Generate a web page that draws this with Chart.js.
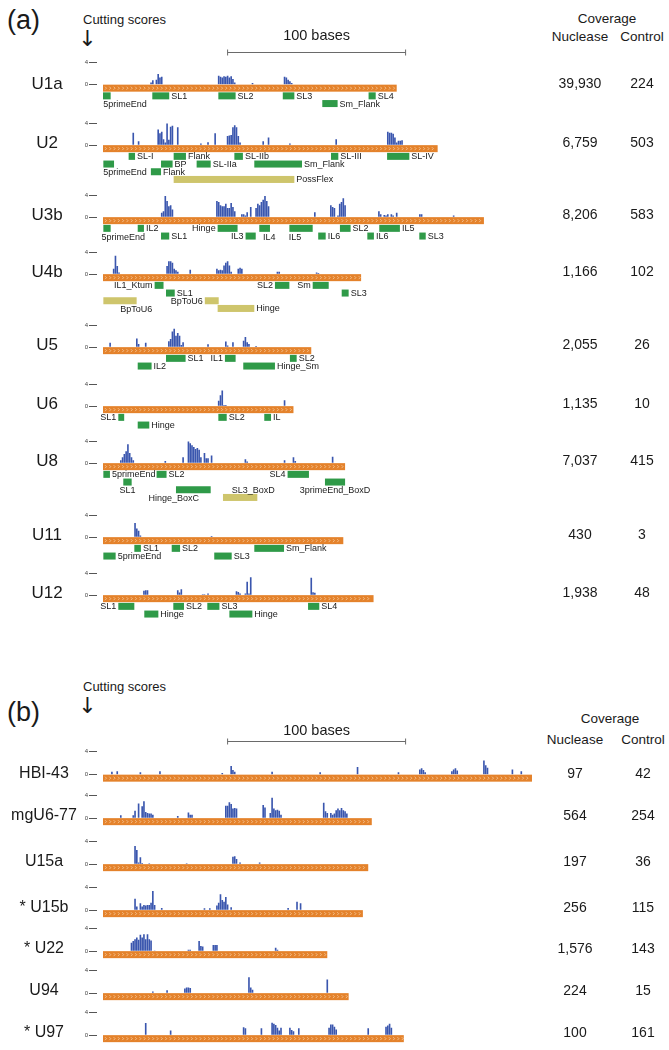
<!DOCTYPE html>
<html>
<head>
<meta charset="utf-8">
<script src="https://cdn.jsdelivr.net/npm/chart.js@4.4.1/dist/chart.umd.min.js"></script>
<style>
  body { margin: 0; background: #fff; font-family: "Liberation Sans", Arial, sans-serif; color: #1a1a1a; }
  #fig { position: relative; width: 669px; height: 1050px; overflow: hidden; }
  .t { position: absolute; white-space: nowrap; line-height: 1; transform: translate(-50%, -50%); }
  .l { transform: translate(0, -50%); }
  canvas { position: absolute; left: 0; }
</style>
</head>
<body>
<div id="fig"></div>
<script>
// ---- data: panel (a) ----
const namesA = ['U1a', 'U2', 'U3b', 'U4b', 'U5', 'U6', 'U8', 'U11', 'U12'];
const lengthsA = [165, 188, 214, 145, 117, 107, 136, 135, 152];
const nucleaseA = ['39,930', '6,759', '8,206', '1,166', '2,055', '1,135', '7,037', '430', '1,938'];
const controlA = ['224', '503', '583', '102', '26', '10', '415', '3', '48'];

// cutting scores: [base, score]
const scoresU1a = [[27,0.4],[28,0.8],[30,0.9],[31,1.9],[32,1.3],[33,1.4],[65,1.6],[66,1.4],[67,1.3],[68,1.5],[69,1.4],[70,1.6],[71,1.3],[72,1.5],[73,1.0],[74,0.4],[84,0.3],[102,1.4],[103,1.3],[104,0.9],[105,0.6],[106,0.3]];
const scoresU2 = [[17,2.3],[20,0.7],[31,2.9],[32,2.2],[33,2.5],[34,1.1],[35,0.5],[36,4.0],[37,1.0],[38,3.4],[39,3.6],[42,3.3],[55,0.3],[59,0.55],[63,2.2],[70,1.7],[71,1.8],[72,1.9],[73,3.3],[74,3.7],[75,3.3],[76,1.7],[77,0.5],[90,0.7],[93,1.4],[105,0.3],[131,1.1],[160,2.5],[161,2.3],[162,2.3],[163,2.1],[164,1.4],[165,0.5],[166,0.8],[167,0.8],[168,0.9]];
const scoresU3b = [[33,0.8],[34,1.1],[35,3.9],[36,3.0],[37,2.0],[38,2.2],[39,1.4],[64,3.0],[65,2.8],[66,2.2],[67,2.0],[68,2.0],[69,2.5],[70,1.7],[71,1.7],[72,2.6],[73,1.9],[74,1.1],[78,0.55],[79,0.55],[80,0.3],[81,0.9],[83,1.9],[86,1.7],[87,2.5],[88,2.2],[89,2.8],[90,3.2],[91,3.9],[92,3.0],[93,2.0],[119,0.9],[128,2.2],[129,1.9],[130,1.7],[132,0.3],[133,2.5],[134,2.8],[135,3.5],[136,2.2],[155,1.1],[156,0.55],[158,0.4],[159,0.3],[160,0.55],[162,0.55],[163,0.3],[165,0.8],[178,0.55],[179,0.55],[197,0.3]];
const scoresU4b = [[6,1.0],[7,3.4],[8,1.5],[9,0.3],[36,1.5],[37,2.4],[38,2.4],[39,2.1],[40,1.0],[41,0.7],[42,0.45],[49,0.8],[64,1.0],[65,0.7],[66,0.8],[67,0.7],[68,1.6],[69,2.1],[70,2.4],[71,1.6],[72,0.45],[76,1.0],[77,1.2],[78,1.0],[98,0.45],[99,0.45],[120,0.3],[121,0.2]];
const scoresU5 = [[4,0.8],[19,1.6],[20,0.6],[24,0.8],[37,1.1],[38,1.5],[39,2.9],[40,3.4],[41,2.1],[42,2.6],[43,2.1],[44,0.4],[45,0.9],[59,0.55],[69,1.05],[70,0.3],[73,0.9],[79,1.2],[80,1.9],[81,0.9],[82,0.6],[86,0.2]];
const scoresU6 = [[65,1.0],[66,2.0],[67,2.9],[68,0.2],[69,0.2],[102,1.1]];
const scoresU8 = [[10,0.55],[11,1.1],[12,1.7],[13,2.2],[14,3.5],[15,1.9],[16,1.1],[17,0.55],[35,0.4],[45,1.1],[48,4.0],[49,3.7],[50,3.3],[51,3.0],[52,2.6],[53,2.8],[54,2.5],[55,1.1],[57,1.9],[58,0.9],[59,0.9],[61,1.4],[80,0.7],[81,0.3],[102,0.55],[107,1.1],[108,0.4],[129,1.2]];
const scoresU11 = [[18,2.6],[19,1.6],[20,1.2],[21,0.3],[61,0.2]];
const scoresU12 = [[23,0.8],[24,0.9],[25,0.9],[42,0.9],[43,0.5],[44,1.1],[56,0.15],[57,0.15],[59,0.3],[75,0.7],[76,0.6],[77,0.3],[80,0.3],[81,2.5],[82,0.3],[83,3.3],[117,3.2],[118,0.55],[119,0.45]];

// annotations: [start, end, row, label, labelSide, labelCentre, colour]
const annU1a = [[0,4.3,1,'5primeEnd','b',12.4],[27.7,37.2,1,'SL1','r'],[64.8,74.5,1,'SL2','r'],[101,107.5,1,'SL3','r'],[149.2,153.2,1,'SL4','r'],[123.2,131.8,2,'Sm_Flank','r']];
const annU2 = [[14.4,18,1,'SL-I','r'],[39.7,46.6,1,'Flank','r'],[73.8,78.6,1,'SL-IIb','r'],[128.1,132.2,1,'SL-III','r'],[159.6,172.1,1,'SL-IV','r'],
  [0.2,6.2,2,'5primeEnd','b',12.4],[32.6,39.1,2,'BP','r'],[52.6,60.5,2,'SL-IIa','r'],[85,111.8,2,'Sm_Flank','r'],
  [26.9,32.6,3,'Flank','r'],[39.7,107.5,4,'PossFlex','r',null,'tan']];
const annU3b = [[0.2,4.3,1,'5primeEnd','b',11.4],[19.5,23,1,'IL2','r'],[64.4,75.6,1,'Hinge','l'],[87.8,93.8,1,'IL4','b',93.4],[104.7,117.8,1,'IL5','b',107.9],[133.1,139.1,1,'SL2','r'],[155.2,166.8,1,'IL5','r'],
  [32.6,37.2,2,'SL1','r'],[80.1,85.8,2,'IL3','l'],[120.9,125.1,2,'IL6','r'],[148.5,152.2,2,'IL6','r'],[177.7,181.3,2,'SL3','r']];
const annU4b = [[29,34,1,'IL1_Ktum','l'],[96.6,104.7,1,'SL2','l'],[117.8,126.8,1,'Sm','l'],
  [35.4,40.3,2,'SL1','r'],[134.1,138,2,'SL3','r'],
  [0.2,18.9,3,'BpToU6','b',18.7,'tan'],[57.2,65,3,'BpToU6','l',null,'tan'],[64.4,85,4,'Hinge','r',null,'tan']];
const annU5 = [[35.4,46.4,1,'SL1','r'],[68.5,74.5,1,'IL1','l'],[105,108.8,1,'SL2','r'],[19.5,27.3,2,'IL2','r'],[78.8,96.6,2,'Hinge_Sm','r']];
const annU6 = [[8.6,11.9,1,'SL1','l'],[64.8,69.5,1,'SL2','r'],[90.6,94.4,1,'IL','r'],[19.5,26,2,'Hinge','r']];
const annU8 = [[0.2,3.9,1,'5primeEnd','r'],[30.1,35.7,1,'SL2','r'],[103.7,115.7,1,'SL4','l'],
  [11.4,16.1,2,'SL1','b'],[124.7,136,2,'3primeEnd_BoxD','b'],
  [41,60.5,3,'Hinge_BoxC','b',39.7],[67.4,86.7,4,'SL3_BoxD','a',84.4,'tan']];
const annU11 = [[17.6,21.3,1,'SL1','r'],[38.6,43.3,1,'SL2','r'],[85,101.7,1,'Sm_Flank','r'],[0.2,7.1,2,'5primeEnd','r'],[62.5,72.3,2,'SL3','r']];
const annU12 = [[8.6,17.6,1,'SL1','l'],[39.5,45.5,1,'SL2','r'],[58.6,65.4,1,'SL3','r'],[115.2,121.5,1,'SL4','r'],[23.2,31.1,2,'Hinge','r'],[71,83.9,2,'Hinge','r']];

const scoresA = [scoresU1a, scoresU2, scoresU3b, scoresU4b, scoresU5, scoresU6, scoresU8, scoresU11, scoresU12];
const annotsA = [annU1a, annU2, annU3b, annU4b, annU5, annU6, annU8, annU11, annU12];

// ---- data: panel (b) ----
const namesB = ['HBI-43', 'mgU6-77', 'U15a', '* U15b', '* U22', 'U94', '* U97'];
const lengthsB = [241, 151, 149, 146, 126, 138, 169];
const nucleaseB = ['97', '564', '197', '256', '1,576', '224', '100'];
const controlB = ['42', '254', '36', '115', '143', '15', '161'];

const scoresHBI43 = [[5,0.5],[8,0.6],[21,0.4],[32,0.6],[67,0.3],[72,1.5],[73,0.8],[74,0.5],[95,0.5],[122,0.4],[143,1.3],[166,0.4],[178,0.9],[179,1.1],[180,0.8],[181,0.4],[196,0.6],[197,0.9],[198,1.1],[199,0.7],[214,2.4],[215,1.6],[216,1.2],[230,0.9],[235,0.6]];
const scoresMgU677 = [[10,0.5],[17,0.5],[18,1.3],[20,2.6],[22,2.1],[23,3.0],[24,1.1],[25,0.9],[26,0.8],[27,0.8],[28,0.6],[42,0.4],[48,1.0],[49,0.6],[50,0.6],[69,2.2],[70,2.2],[71,2.8],[72,2.5],[73,1.7],[74,1.8],[75,1.7],[90,2.3],[91,1.9],[94,0.9],[95,3.6],[96,1.7],[97,1.4],[98,1.5],[99,1.3],[100,0.6],[124,2.7],[125,1.2],[126,0.9],[128,0.9],[129,0.6],[130,0.8],[131,1.4],[132,1.7],[133,1.4],[134,1.8],[135,1.4],[136,1.2],[137,0.8]];
const scoresU15a = [[18,3.2],[19,2.5],[20,0.3],[21,1.2],[22,0.2],[26,0.15],[47,0.15],[73,1.3],[74,1.4],[75,0.9],[77,0.3],[88,0.3]];
const scoresU15b = [[18,2.0],[19,0.65],[21,1.2],[22,0.65],[23,0.9],[24,0.8],[25,0.9],[26,0.9],[27,1.3],[28,3.4],[29,0.9],[33,0.4],[57,0.35],[60,0.35],[64,0.8],[65,1.3],[66,2.8],[67,1.8],[68,1.5],[69,2.3],[70,1.0],[72,0.5],[104,0.4],[109,1.5],[111,1.2]];
const scoresU22 = [[16,1.5],[17,1.8],[18,2.1],[19,2.4],[20,2.0],[21,2.9],[22,2.4],[23,3.0],[24,2.1],[25,3.0],[26,2.1],[27,1.9],[29,0.1],[48,0.25],[49,0.25],[54,1.8],[55,0.9],[56,0.8],[62,1.1],[63,1.1],[64,1.1],[97,0.6],[98,0.25]];
const scoresU94 = [[28,0.3],[36,0.5],[46,0.8],[47,1.0],[48,1.0],[49,0.9],[82,2.8],[83,1.0],[84,0.6],[126,2.4]];
const scoresU97 = [[24,2.15],[38,0.8],[79,1.4],[80,1.2],[89,1.2],[95,2.2],[96,2.0],[97,1.8],[98,1.3],[99,0.8],[100,1.3],[105,1.3],[106,0.9],[107,0.7],[110,1.2],[127,1.3],[128,1.9],[129,1.9],[130,1.5],[131,1.0],[149,1.2],[159,1.5],[160,1.7],[161,2.0],[162,1.3]];

const scoresB = [scoresHBI43, scoresMgU677, scoresU15a, scoresU15b, scoresU22, scoresU94, scoresU97];

const scoreTicks = [0, 4];
const rulerBases = [70, 170];

// ---- layout ----
const X0 = 103, PX_PER_BASE = 1.78, AXIS_W = 97, CANVAS_W = 548;
const RNA_H = 7, ROW_STEP = 7.7, BOX_H = 7;
const baseYA = [85, 144, 216, 273, 346, 405, 462, 536, 594];
const baseYB = [775, 817, 863, 909, 950, 992, 1034];
const COLORS = { bar: '#3A56AE', rna: '#E4822B', green: '#2F9A48', tan: '#CEC56C', text: '#1a1a1a' };
const FONT = '"Liberation Sans", Arial, sans-serif';

// header offsets above the first baseline, per panel
const headA = { letter: 65, cutting: 66, arrow: 46, coverage: 66, cols: 48, rulerY: 33, rulerText: 49, covX: 607 };
const headB = { letter: 63, cutting: 89, arrow: 69, coverage: 56, cols: 35, rulerY: 34, rulerText: 44, covX: 610 };

const fig = document.getElementById('fig');

function addText(txt, x, y, size, cls) {
  const d = document.createElement('div');
  d.className = 't' + (cls ? ' ' + cls : '');
  d.style.left = x + 'px';
  d.style.top = y + 'px';
  d.style.fontSize = size + 'px';
  d.textContent = txt;
  fig.appendChild(d);
  return d;
}

// draws the RNA strip, annotation boxes and the scale bar from the chart's scales
const trackPlugin = {
  id: 'track',
  afterDatasetsDraw(chart, args, opts) {
    const { ctx, scales: { x, y } } = chart;
    const y0 = y.getPixelForValue(0);
    const xa = x.getPixelForValue(0), xb = x.getPixelForValue(opts.length);
    ctx.save();
    ctx.fillStyle = COLORS.rna;
    ctx.fillRect(xa, y0, xb - xa, RNA_H);
    ctx.strokeStyle = 'rgba(255,236,212,0.9)';
    ctx.lineWidth = 0.6;
    ctx.beginPath();
    for (let cx = xa + 2; cx < xb - 2; cx += 4.3) {
      ctx.moveTo(cx, y0 + 2);
      ctx.lineTo(cx + 1.5, y0 + RNA_H / 2);
      ctx.lineTo(cx, y0 + RNA_H - 2);
    }
    ctx.stroke();

    ctx.font = '9px ' + FONT;
    ctx.textBaseline = 'middle';
    (opts.annots || []).forEach(([s, e, row, label, side, lc, col]) => {
      const top = y0 + ROW_STEP * row, mid = top + BOX_H / 2 + 0.5;
      const xs = x.getPixelForValue(s), xe = x.getPixelForValue(e);
      ctx.fillStyle = col === 'tan' ? COLORS.tan : COLORS.green;
      ctx.fillRect(xs, top, xe - xs, BOX_H);
      ctx.fillStyle = COLORS.text;
      if (side === 'r') {
        ctx.textAlign = 'left';
        ctx.fillText(label, xe + 2, mid);
      } else if (side === 'l') {
        ctx.textAlign = 'right';
        ctx.fillText(label, xs - 2, mid);
      } else {
        ctx.textAlign = 'center';
        const cx = x.getPixelForValue(lc != null ? lc : (s + e) / 2);
        ctx.fillText(label, cx, mid + (side === 'b' ? ROW_STEP + 0.5 : -ROW_STEP));
      }
    });

    if (opts.ruler) {
      const r0 = x.getPixelForValue(rulerBases[0]), r1 = x.getPixelForValue(rulerBases[1]);
      const ry = Math.round(y0 - opts.ruler.rulerY) + 0.5;
      ctx.strokeStyle = '#6a6a6a';
      ctx.lineWidth = 1;
      ctx.beginPath();
      ctx.moveTo(r0, ry); ctx.lineTo(r1, ry);
      ctx.moveTo(r0, ry - 3); ctx.lineTo(r0, ry + 3);
      ctx.moveTo(r1, ry - 3); ctx.lineTo(r1, ry + 3);
      ctx.stroke();
      ctx.fillStyle = COLORS.text;
      ctx.font = '14.5px ' + FONT;
      ctx.textAlign = 'center';
      ctx.fillText((rulerBases[1] - rulerBases[0]) + ' bases', (r0 + r1) / 2, y0 - opts.ruler.rulerText);
    }
    ctx.restore();
  }
};

function makeTrack(scores, length, annots, baseY, ppu, ruler) {
  const head = ruler ? 58 : 30, below = 50;
  const canvas = document.createElement('canvas');
  canvas.width = CANVAS_W;
  canvas.height = head + below;
  canvas.style.top = (baseY - head) + 'px';
  fig.appendChild(canvas);
  new Chart(canvas, {
    type: 'bar',
    data: {
      datasets: [{
        data: scores.map(([b, v]) => ({ x: b, y: v })),
        backgroundColor: COLORS.bar,
        borderWidth: 0,
        barPercentage: 1,
        categoryPercentage: 0.92
      }]
    },
    options: {
      responsive: false,
      animation: false,
      events: [],
      layout: { padding: 0 },
      plugins: {
        legend: { display: false },
        tooltip: { enabled: false },
        track: { length: length, annots: annots, ruler: ruler }
      },
      scales: {
        x: {
          type: 'linear',
          display: false,
          offset: false,
          min: (AXIS_W - X0) / PX_PER_BASE,
          max: (CANVAS_W - X0) / PX_PER_BASE
        },
        y: {
          min: -below / ppu,
          max: head / ppu,
          afterFit(s) { s.width = AXIS_W; },
          afterBuildTicks(s) { s.ticks = scoreTicks.map(v => ({ value: v })); },
          border: { display: false },
          grid: { drawOnChartArea: false, drawTicks: true, tickLength: 8, color: '#555', lineWidth: 1 },
          ticks: { color: '#444', padding: 1, font: { size: 6, family: FONT } }
        }
      }
    },
    plugins: [trackPlugin]
  });
}

function makePanel(letter, names, lengths, scores, annots, nuc, ctl, baseYs, ppu, hd, labelX, labelSize, nucX, ctlX) {
  const b0 = baseYs[0];
  addText('(' + letter + ')', 7, b0 - hd.letter, 27, 'l');
  addText('Cutting scores', 83, b0 - hd.cutting, 13, 'l');
  const arrow = addText('\u2193', 87.5, b0 - hd.arrow, 22);
  arrow.style.fontFamily = '"DejaVu Sans", sans-serif';
  addText('Coverage', hd.covX, b0 - hd.coverage, 13.5);
  addText('Nuclease', nucX, b0 - hd.cols, 13.5);
  addText('Control', ctlX, b0 - hd.cols, 13.5);
  names.forEach((n, i) => {
    makeTrack(scores[i], lengths[i], annots ? annots[i] : [], baseYs[i], ppu, i === 0 ? hd : null);
    addText(n, labelX, baseYs[i] - 2, labelSize);
    addText(nuc[i], nucX, baseYs[i] - 2, 14);
    addText(ctl[i], ctlX, baseYs[i] - 2, 14);
  });
}

makePanel('a', namesA, lengthsA, scoresA, annotsA, nucleaseA, controlA, baseYA, 6.1, headA, 47, 17, 580, 642);
makePanel('b', namesB, lengthsB, scoresB, null, nucleaseB, controlB, baseYB, 6.4, headB, 44, 16, 575, 643);
</script>
</body>
</html>
